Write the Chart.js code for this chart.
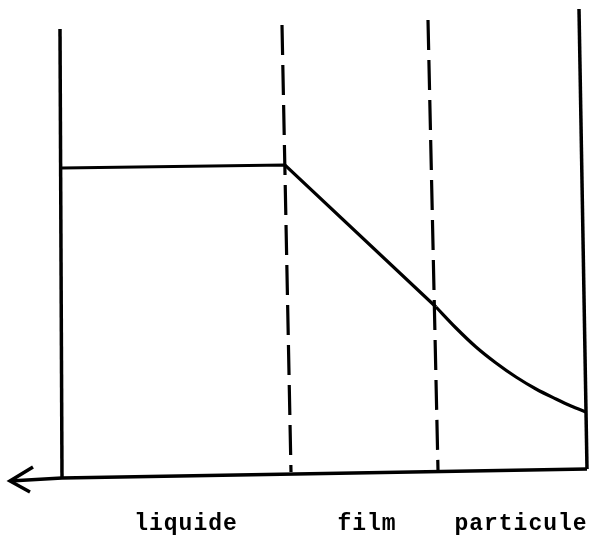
<!DOCTYPE html>
<html>
<head>
<meta charset="utf-8">
<script src="https://cdn.jsdelivr.net/npm/chart.js@4.4.1/dist/chart.umd.min.js"></script>
<style>
  html, body { margin: 0; padding: 0; background: #fff; }
  #wrap { width: 594px; height: 535px; }
</style>
</head>
<body>
<div id="wrap"><canvas id="diagram"></canvas></div>
<script>
// Diagram coordinates (page units, y down)
const leftWall = [{ x: 60, y: 29 }, { x: 62, y: 478 }];
const rightWall = [{ x: 579, y: 9 }, { x: 587, y: 469 }];
const axisLine = [{ x: 10, y: 481 }, { x: 62, y: 478 }, { x: 587, y: 469 }];
const arrowHead = [{ x: 33, y: 467 }, { x: 10, y: 481 }, { x: 30, y: 492 }];
const filmStart = [{ x: 282, y: 25 }, { x: 291, y: 472 }];
const filmEnd = [{ x: 428, y: 20 }, { x: 438, y: 470 }];

// concentration profile
const profileFlat = [{ x: 62, y: 168 }, { x: 285, y: 165 }, { x: 436, y: 307 }];
const profileCurve = [
  { x: 436, y: 307 }, { x: 456, y: 328 }, { x: 476, y: 347 },
  { x: 496, y: 363 }, { x: 516, y: 377 }, { x: 536, y: 389 },
  { x: 556, y: 399 }, { x: 571, y: 406 }, { x: 586, y: 412 }
];

// zone labels
const zoneLabels = ['liquide', 'film', 'particule'];
const zoneLabelX = [186, 367, 521];
const zoneLabelY = 530;

const ink = '#000';

function seg(data, extra) {
  return Object.assign({
    data: data,
    borderColor: ink,
    borderWidth: 3.2,
    pointRadius: 0,
    fill: false,
    tension: 0,
    showLine: true
  }, extra || {});
}

// draw zone names under the axis
const labelPlugin = {
  id: 'zoneLabels',
  afterDraw(chart) {
    const ctx = chart.ctx;
    const xs = chart.scales.x;
    const ys = chart.scales.y;
    ctx.save();
    ctx.fillStyle = ink;
    ctx.font = 'bold 23px "Liberation Mono", "DejaVu Sans Mono", monospace';
    ctx.letterSpacing = '1px';
    ctx.textAlign = 'center';
    ctx.textBaseline = 'alphabetic';
    zoneLabels.forEach((txt, i) => {
      ctx.fillText(txt, xs.getPixelForValue(zoneLabelX[i]), ys.getPixelForValue(zoneLabelY));
    });
    ctx.restore();
  }
};

new Chart(document.getElementById('diagram'), {
  type: 'scatter',
  data: {
    datasets: [
      seg(leftWall, { borderWidth: 3.5 }),
      seg(rightWall, { borderWidth: 3.5 }),
      seg(axisLine, { borderWidth: 3.5 }),
      seg(arrowHead, { borderWidth: 3.5 }),
      seg(filmStart, { borderDash: [30, 10] }),
      seg(filmEnd, { borderDash: [30, 10] }),
      seg(profileFlat),
      seg(profileCurve, { cubicInterpolationMode: 'monotone' })
    ]
  },
  options: {
    responsive: true,
    maintainAspectRatio: false,
    animation: false,
    layout: { padding: 0 },
    plugins: {
      legend: { display: false },
      tooltip: { enabled: false }
    },
    scales: {
      x: { type: 'linear', min: 0, max: 594, display: false },
      y: { type: 'linear', min: 0, max: 535, reverse: true, display: false }
    }
  },
  plugins: [labelPlugin]
});
</script>
</body>
</html>
